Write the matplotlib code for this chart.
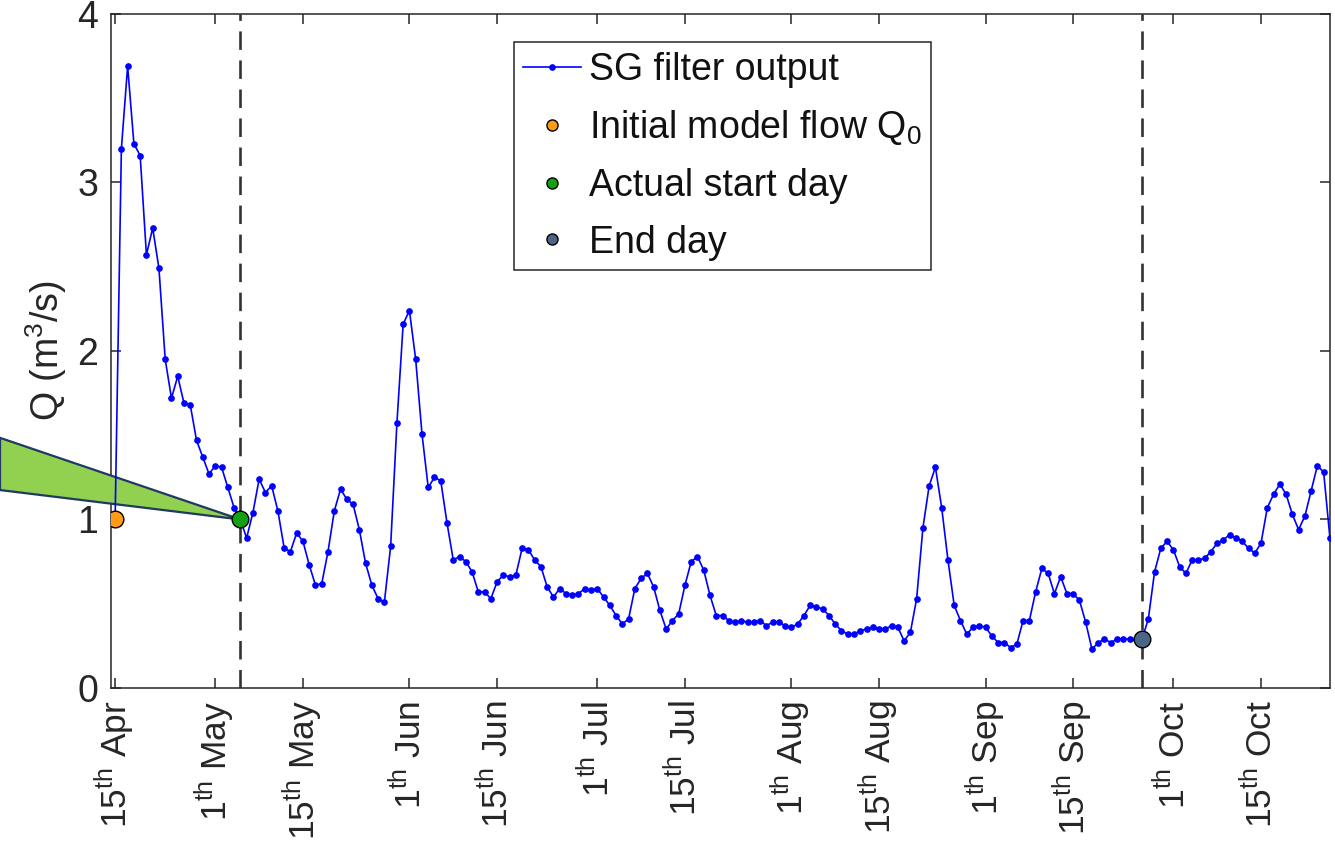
import matplotlib
matplotlib.use("Agg")
import matplotlib.pyplot as plt
from matplotlib.lines import Line2D
from matplotlib.patches import Polygon
import pandas as pd

# daily SG filter output, starting 15 Apr
start_date = "2015-04-15"
flow_values = [
    1.00, 3.20, 3.69, 3.23, 3.16, 2.57, 2.73, 2.49, 1.95, 1.72,
    1.85, 1.69, 1.68, 1.47, 1.37, 1.27, 1.32, 1.31, 1.19, 1.07,
    1.00, 0.89, 1.04, 1.24, 1.16, 1.20, 1.05, 0.83, 0.81, 0.92,
    0.87, 0.73, 0.61, 0.62, 0.81, 1.05, 1.18, 1.12, 1.09, 0.94,
    0.74, 0.61, 0.53, 0.51, 0.84, 1.57, 2.16, 2.24, 1.95, 1.51,
    1.19, 1.25, 1.23, 0.98, 0.76, 0.78, 0.75, 0.69, 0.57, 0.57,
    0.53, 0.63, 0.67, 0.66, 0.67, 0.83, 0.82, 0.76, 0.72, 0.60,
    0.54, 0.59, 0.56, 0.55, 0.56, 0.59, 0.58, 0.59, 0.54, 0.49,
    0.43, 0.38, 0.41, 0.59, 0.65, 0.68, 0.60, 0.46, 0.35, 0.40,
    0.44, 0.61, 0.75, 0.78, 0.70, 0.55, 0.43, 0.43, 0.40, 0.39,
    0.40, 0.39, 0.39, 0.40, 0.37, 0.39, 0.39, 0.37, 0.36, 0.38,
    0.43, 0.49, 0.48, 0.47, 0.43, 0.38, 0.34, 0.32, 0.32, 0.34,
    0.35, 0.36, 0.35, 0.35, 0.37, 0.36, 0.28, 0.33, 0.53, 0.95,
    1.20, 1.31, 1.07, 0.76, 0.49, 0.40, 0.32, 0.36, 0.37, 0.36,
    0.31, 0.27, 0.27, 0.24, 0.26, 0.40, 0.40, 0.57, 0.71, 0.68,
    0.56, 0.66, 0.56, 0.56, 0.52, 0.39, 0.23, 0.27, 0.29, 0.27,
    0.29, 0.29, 0.29, 0.29, 0.29, 0.41, 0.69, 0.83, 0.87, 0.82,
    0.72, 0.68, 0.76, 0.76, 0.77, 0.81, 0.86, 0.88, 0.91, 0.89,
    0.87, 0.83, 0.80, 0.86, 1.07, 1.15, 1.21, 1.15, 1.03, 0.94,
    1.02, 1.17, 1.32, 1.28, 0.89,
]
start_index = 20   # actual start day (5 May)
end_index = 164    # end day (26 Sep)

tick_dates = [
    "2015-04-15", "2015-05-01", "2015-05-15", "2015-06-01", "2015-06-15",
    "2015-07-01", "2015-07-15", "2015-08-01", "2015-08-15", "2015-09-01",
    "2015-09-15", "2015-10-01", "2015-10-15",
]
tick_days = [15, 1, 15, 1, 15, 1, 15, 1, 15, 1, 15, 1, 15]
tick_months = ["Apr", "May", "May", "Jun", "Jun", "Jul", "Jul",
               "Aug", "Aug", "Sep", "Sep", "Oct", "Oct"]

plt.rcParams["font.family"] = ["Liberation Sans", "DejaVu Sans"]
plt.rcParams["mathtext.fontset"] = "custom"
plt.rcParams["mathtext.rm"] = "Liberation Sans"
plt.rcParams["mathtext.it"] = "Liberation Sans:italic"
plt.rcParams["mathtext.bf"] = "Liberation Sans:bold"

text_color = "#262626"
orange = "#FF9B14"
green = "#13A013"
slate = "#4B6584"

dates = pd.date_range(start_date, periods=len(flow_values), freq="D")

fig = plt.figure(figsize=(13.35, 8.42), dpi=100)
ax = fig.add_axes([0.0831, 0.1829, 0.9131, 0.8005])

ax.plot(dates, flow_values, color="blue", lw=1.2, marker="o", ms=3.8, zorder=4)

for idx in (start_index, end_index):
    ax.axvline(dates[idx], color="#333333", lw=1.9, dashes=(7, 4), zorder=2)

ax.plot(dates[0], flow_values[0], "o", mfc=orange, mec="black", mew=1.0, ms=12, zorder=6)
ax.plot(dates[start_index], flow_values[start_index], "o", mfc=green, mec="black",
        mew=1.0, ms=12, zorder=6)
ax.plot(dates[end_index], flow_values[end_index], "o", mfc=slate, mec="black",
        mew=1.0, ms=12, zorder=6)

ax.set_yticks([0, 1, 2, 3, 4])
ax.set_xticks(pd.to_datetime(tick_dates))
ax.set_xticklabels([f"{d}$^{{\\rm th}}$ {m}" for d, m in zip(tick_days, tick_months)],
                   rotation=90, va="top", ha="center")

ax.tick_params(axis="both", direction="in", top=True, right=True, length=7,
               width=1.1, colors=text_color, labelsize=27, pad=9)
ax.tick_params(axis="x", labelsize=25.5)
for spine in ax.spines.values():
    spine.set_color(text_color)
    spine.set_linewidth(1.1)

ax.set_ylabel("Q (m$^3$/s)", fontsize=27, color=text_color, labelpad=6)

# green callout pointing at the actual start day
ax.set_xlim(dates[0] - pd.Timedelta(hours=16), dates[-1])
ax.set_ylim(0, 4)
tip = fig.transFigure.inverted().transform(
    ax.transData.transform((matplotlib.dates.date2num(dates[start_index]), flow_values[start_index])))
callout = Polygon([(0.0, 0.480), tuple(tip), (0.0, 0.418)], closed=True,
                  facecolor="#92D050", edgecolor="#1F3864", lw=1.6,
                  transform=fig.transFigure, clip_on=False, zorder=3)
ax.add_patch(callout)
ax.set_xlim(dates[0] - pd.Timedelta(hours=16), dates[-1])
ax.set_ylim(0, 4)

handles = [
    Line2D([], [], color="blue", lw=1.2, marker="o", ms=3.8),
    Line2D([], [], ls="none", marker="o", mfc=orange, mec="black", ms=8),
    Line2D([], [], ls="none", marker="o", mfc=green, mec="black", ms=8),
    Line2D([], [], ls="none", marker="o", mfc=slate, mec="black", ms=8),
]
labels = ["SG filter output", "Initial model flow Q$_0$", "Actual start day", "End day"]
leg = ax.legend(handles, labels, loc="upper left", bbox_to_anchor=(0.3306, 0.958),
                borderaxespad=0, fontsize=27, fancybox=False, framealpha=1,
                edgecolor=text_color, handlelength=1.55, handletextpad=0.2,
                labelspacing=0.55, borderpad=0.25)
leg.get_frame().set_linewidth(1.1)
for t in leg.get_texts():
    t.set_color("#111111")

fig.savefig("out.png", dpi=100)
